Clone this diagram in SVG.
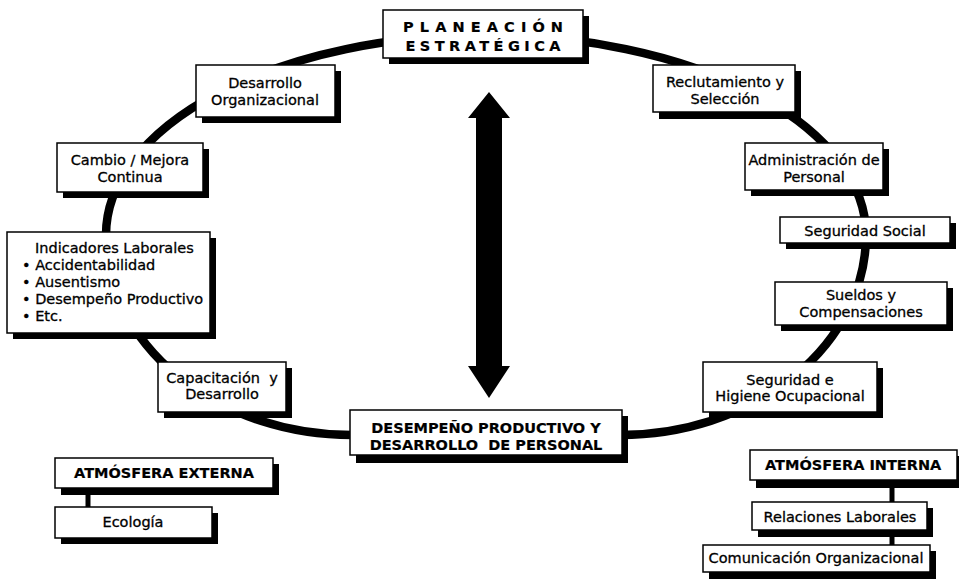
<svg xmlns="http://www.w3.org/2000/svg" width="959" height="580" viewBox="0 0 959 580">
  <style>
    .sh { fill: #000; }
    .bx { fill: #fff; stroke: #000; stroke-width: 1.5; }
    .t { font-family: "DejaVu Sans", Verdana, sans-serif; font-size: 14.5px; fill: #000; stroke: #000; stroke-width: 0.3; text-anchor: middle; }
    .l { text-anchor: start; }
    .b { font-weight: bold; stroke-width: 0.2; }
    .ring { fill: none; stroke: #000; stroke-width: 8.5; }
    .link { stroke: #000; stroke-width: 5; }
  </style>
  <rect width="959" height="580" fill="#fff"/>

  <!-- connectors: main cycle, central double arrow, short ties -->
  <g id="connectors">
    <path class="ring" d="M 106 235 A 380 200 0 0 1 866 235 A 246 200 0 0 1 620 435 L 352 435 A 246 200 0 0 1 106 235 Z"/>
    <polygon fill="#000" points="489,92 510,118 502,118 502,366 510,366 489,398 468,366 476,366 476,118 468,118"/>
    <line class="link" x1="88" y1="490" x2="88" y2="508"/>
    <line class="link" x1="892" y1="480" x2="892" y2="503"/>
    <line class="link" x1="892" y1="530" x2="892" y2="546"/>
  </g>

  <g id="planeacion">
    <rect class="sh" x="389" y="16" width="200" height="48"/>
    <rect class="bx" x="383" y="10" width="200" height="48"/>
    <text class="t b" x="483" y="32" font-size="13.5" textLength="160" lengthAdjust="spacing">PLANEACIÓN</text>
    <text class="t b" x="483" y="51" font-size="13.5" textLength="155" lengthAdjust="spacing">ESTRATÉGICA</text>
  </g>

  <g id="desarrollo-org">
    <rect class="sh" x="202" y="71" width="139" height="52"/>
    <rect class="bx" x="196" y="65" width="139" height="52"/>
    <text class="t" x="265" y="88">Desarrollo</text>
    <text class="t" x="265" y="105">Organizacional</text>
  </g>

  <g id="cambio">
    <rect class="sh" x="63" y="149" width="146" height="49"/>
    <rect class="bx" x="57" y="143" width="146" height="49"/>
    <text class="t" x="130" y="165">Cambio / Mejora</text>
    <text class="t" x="130" y="182">Continua</text>
  </g>

  <g id="indicadores">
    <rect class="sh" x="13" y="238" width="203" height="101"/>
    <rect class="bx" x="7" y="232" width="203" height="101"/>
    <text class="t l" x="35" y="253">Indicadores Laborales</text>
    <text class="t l" x="22" y="270">• Accidentabilidad</text>
    <text class="t l" x="22" y="287">• Ausentismo</text>
    <text class="t l" x="22" y="304">• Desempeño Productivo</text>
    <text class="t l" x="22" y="321">• Etc.</text>
  </g>

  <g id="capacitacion">
    <rect class="sh" x="164" y="368" width="128" height="50"/>
    <rect class="bx" x="158" y="362" width="128" height="50"/>
    <text class="t" x="222" y="383" xml:space="preserve">Capacitación  y</text>
    <text class="t" x="222" y="399">Desarrollo</text>
  </g>

  <g id="desempeno">
    <rect class="sh" x="356" y="416" width="272" height="47"/>
    <rect class="bx" x="350" y="410" width="272" height="45"/>
    <text class="t b" x="486" y="433" font-size="15.5">DESEMPEÑO PRODUCTIVO Y</text>
    <text class="t b" x="486" y="450" font-size="15.5" xml:space="preserve">DESARROLLO  DE PERSONAL</text>
  </g>

  <g id="reclutamiento">
    <rect class="sh" x="659" y="71" width="142" height="48"/>
    <rect class="bx" x="653" y="65" width="142" height="47"/>
    <text class="t" x="725" y="87">Reclutamiento y</text>
    <text class="t" x="725" y="104">Selección</text>
  </g>

  <g id="administracion">
    <rect class="sh" x="751" y="149" width="138" height="47"/>
    <rect class="bx" x="745" y="143" width="138" height="47"/>
    <text class="t" x="814" y="165">Administración de</text>
    <text class="t" x="814" y="182">Personal</text>
  </g>

  <g id="seguridad-social">
    <rect class="sh" x="786" y="223" width="170" height="26"/>
    <rect class="bx" x="780" y="217" width="170" height="26"/>
    <text class="t" x="865" y="236">Seguridad Social</text>
  </g>

  <g id="sueldos">
    <rect class="sh" x="781" y="288" width="172" height="43"/>
    <rect class="bx" x="775" y="282" width="172" height="43"/>
    <text class="t" x="861" y="300">Sueldos y</text>
    <text class="t" x="861" y="317">Compensaciones</text>
  </g>

  <g id="higiene">
    <rect class="sh" x="709" y="368" width="174" height="50"/>
    <rect class="bx" x="703" y="362" width="174" height="50"/>
    <text class="t" x="790" y="385">Seguridad e</text>
    <text class="t" x="790" y="401">Higiene Ocupacional</text>
  </g>

  <g id="atmosfera-externa">
    <rect class="sh" x="61" y="464" width="218" height="31"/>
    <rect class="bx" x="55" y="458" width="218" height="30"/>
    <text class="t b" x="164" y="478" font-size="15">ATMÓSFERA EXTERNA</text>
  </g>

  <g id="ecologia">
    <rect class="sh" x="61" y="513" width="157" height="31"/>
    <rect class="bx" x="55" y="507" width="157" height="31"/>
    <text class="t" x="133" y="527">Ecología</text>
  </g>

  <g id="atmosfera-interna">
    <rect class="sh" x="756" y="456" width="207" height="32"/>
    <rect class="bx" x="750" y="450" width="207" height="30"/>
    <text class="t b l" x="765" y="470" font-size="15">ATMÓSFERA INTERNA</text>
  </g>

  <g id="relaciones">
    <rect class="sh" x="758" y="508" width="175" height="29"/>
    <rect class="bx" x="752" y="502" width="175" height="28"/>
    <text class="t" x="840" y="522">Relaciones Laborales</text>
  </g>

  <g id="comunicacion">
    <rect class="sh" x="709" y="551" width="227" height="28"/>
    <rect class="bx" x="703" y="545" width="227" height="27"/>
    <text class="t" x="816" y="563">Comunicación Organizacional</text>
  </g>
</svg>
